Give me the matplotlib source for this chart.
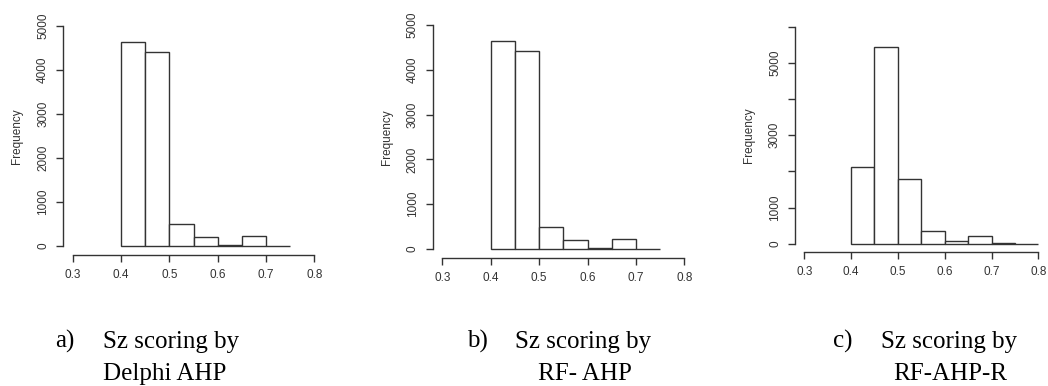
import numpy as np
import matplotlib.pyplot as plt

# histogram bins (0.05 wide) and counts for each scoring method
bin_edges_ab = [0.40, 0.45, 0.50, 0.55, 0.60, 0.65, 0.70, 0.75]
bin_edges_c = [0.40, 0.45, 0.50, 0.55, 0.60, 0.65, 0.70, 0.75, 0.80]

counts_delphi = [4630, 4415, 495, 197, 25, 220, 10]
counts_rf = [4640, 4415, 490, 195, 22, 222, 8]
counts_rf_r = [2110, 5450, 1790, 340, 65, 210, 25, 5]

x_ticks = [0.3, 0.4, 0.5, 0.6, 0.7, 0.8]
y_ticks_ab = [0, 1000, 2000, 3000, 4000, 5000]
y_ticks_c = [0, 1000, 2000, 3000, 4000, 5000, 6000]
y_labels_ab = ['0', '1000', '2000', '3000', '4000', '5000']
y_labels_c = ['0', '1000', '', '3000', '', '5000', '']

captions = [('a)', 'Sz scoring by', 'Delphi AHP'),
            ('b)', 'Sz scoring by', 'RF- AHP'),
            ('c)', 'Sz scoring by', 'RF-AHP-R')]

W, H = 1048, 386
fig = plt.figure(figsize=(W / 100, H / 100), dpi=100)
fig.patch.set_facecolor('white')

line_col = '#333333'
tick_font = dict(family='Liberation Sans', size=8.5, color='#333333')


def add_panel(box, edges, counts, ylim, yticks, ylabels):
    # box in pixels: left, top, right, bottom
    l, t, r, b = box
    ax = fig.add_axes([l / W, 1 - b / H, (r - l) / W, (b - t) / H])
    edges = np.array(edges)
    ax.bar(edges[:-1], counts, width=np.diff(edges), align='edge',
           facecolor='white', edgecolor=line_col, linewidth=1.0)
    ax.set_xlim(0.28, 0.82)
    ax.set_ylim(*ylim)

    for s in ['top', 'right']:
        ax.spines[s].set_visible(False)
    for s in ['left', 'bottom']:
        ax.spines[s].set_color(line_col)
        ax.spines[s].set_linewidth(1.0)
    ax.spines['bottom'].set_bounds(x_ticks[0], x_ticks[-1])
    ax.spines['left'].set_bounds(yticks[0], yticks[-1])

    ax.set_xticks(x_ticks)
    ax.set_xticklabels([f'{v:.1f}' for v in x_ticks], **tick_font)
    ax.set_yticks(yticks)
    ax.set_yticklabels(ylabels, rotation=90, va='center', **tick_font)
    ax.tick_params(direction='out', length=5, width=1.0, color=line_col, pad=5)
    ax.set_ylabel('Frequency', family='Liberation Sans', size=8.5,
                  color='#333333', labelpad=10)
    ax.patch.set_visible(False)
    return ax


add_panel((63.0, 17.2, 324.0, 254.8), bin_edges_ab, counts_delphi,
          (-200, 5200), y_ticks_ab, y_labels_ab)
add_panel((432.6, 16.0, 694.0, 258.0), bin_edges_ab, counts_rf,
          (-200, 5200), y_ticks_ab, y_labels_ab)
add_panel((794.9, 18.0, 1047.7, 252.4), bin_edges_c, counts_rf_r,
          (-240, 6240), y_ticks_c, y_labels_c)

# captions under each panel
cap_font = dict(family='Liberation Serif', size=18, color='black')
cap_pos = [(55, 103, 'left', 103), (467, 515, 'center', 585), (833, 881, 'center', 950)]
for (tag, line1, line2), (x_tag, x_line1, ha2, x_line2) in zip(captions, cap_pos):
    fig.text(x_tag / W, 1 - 348 / H, tag, va='baseline', ha='left', **cap_font)
    fig.text(x_line1 / W, 1 - 348 / H, line1, va='baseline', ha='left', **cap_font)
    fig.text(x_line2 / W, 1 - 380 / H, line2, va='baseline', ha=ha2, **cap_font)

fig.savefig('out.png', dpi=100)
